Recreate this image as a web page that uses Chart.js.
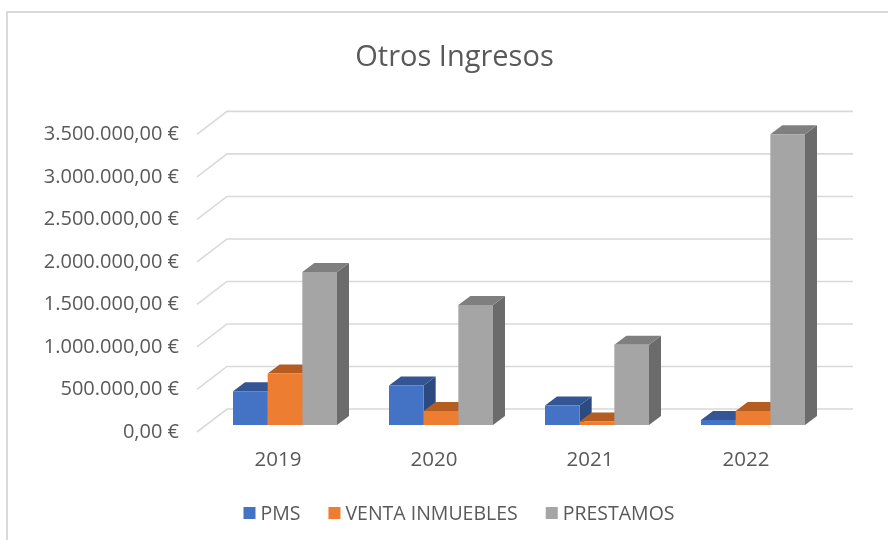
<!DOCTYPE html>
<html lang="es">
<head>
<meta charset="UTF-8">
<title>Otros Ingresos</title>
<script src="https://cdn.jsdelivr.net/npm/chart.js@4"></script>
<style>
    html, body { margin: 0; padding: 0; background: #fff; overflow: hidden; }
    #frame { position: absolute; left: 6px; top: 11px; width: 882px; height: 529px; border-left: 2px solid #d9d9d9; border-top: 2px solid #d9d9d9; box-sizing: border-box; }
    #chart { position: absolute; left: 0; top: 0; }
</style>
</head>
<body>
<div id="frame"></div>
<canvas id="chart" width="888" height="540"></canvas>
<script>
const years = ["2019", "2020", "2021", "2022"];
const pms = [396000, 466000, 230000, 60000];
const ventaInmuebles = [607000, 165000, 40000, 165000];
const prestamos = [1800000, 1410000, 945000, 3420000];
const valueTicks = ["0,00 €", "500.000,00 €", "1.000.000,00 €", "1.500.000,00 €", "2.000.000,00 €", "2.500.000,00 €", "3.000.000,00 €", "3.500.000,00 €"];

const textColor = "#595959";
const gridColor = "#d9d9d9";
const fontFamily = "'Open Sans', sans-serif";

// top and side colours of the 3D bars, same order as the datasets
const topColors = ["#335593", "#b55d20", "#7f7f7f"];
const sideColors = ["#2a4a80", "#9a4f1c", "#6b6b6b"];

// back wall of the fake 3D box, relative to the plane the bars stand on
const wall = { left: 20, right: 22, up: 16, frontLeft: -10, frontDown: 7 };
const barDepth = { x: 12, y: 9 };

const wallPlugin = {
    id: "wall",
    // title is centred on the whole chart block, not on the space right of nothing
    afterLayout(chart) {
        chart.titleBlock.left = 78;
    },
    beforeDatasetsDraw(chart) {
        const ctx = chart.ctx, area = chart.chartArea, y = chart.scales.y;
        ctx.save();
        ctx.strokeStyle = gridColor;
        ctx.lineWidth = 1.6;
        valueTicks.forEach((t, i) => {
            const py = y.getPixelForValue(i * 500000);
            ctx.beginPath();
            ctx.moveTo(area.left + wall.frontLeft, py + wall.frontDown);
            ctx.lineTo(area.left + wall.left, py - wall.up);
            ctx.lineTo(area.right + wall.right, py - wall.up);
            ctx.stroke();
        });
        // depth faces go first, the library paints the bar fronts over them
        chart.data.datasets.forEach((ds, d) => {
            chart.getDatasetMeta(d).data.forEach(bar => {
                const l = bar.x - bar.width / 2, r = bar.x + bar.width / 2;
                ctx.fillStyle = sideColors[d];
                ctx.beginPath();
                ctx.moveTo(r, bar.y);
                ctx.lineTo(r + barDepth.x, bar.y - barDepth.y);
                ctx.lineTo(r + barDepth.x, bar.base - barDepth.y);
                ctx.lineTo(r, bar.base);
                ctx.closePath();
                ctx.fill();
                ctx.fillStyle = topColors[d];
                ctx.beginPath();
                ctx.moveTo(l, bar.y);
                ctx.lineTo(l + barDepth.x, bar.y - barDepth.y);
                ctx.lineTo(r + barDepth.x, bar.y - barDepth.y);
                ctx.lineTo(r, bar.y);
                ctx.closePath();
                ctx.fill();
            });
        });
        ctx.restore();
    }
};

// own legend, the built-in one can't sit this close to the bottom edge
const legendPlugin = {
    id: "bottomLegend",
    afterDraw(chart) {
        const ctx = chart.ctx;
        const box = 12, boxGap = 5, itemGap = 28, centerX = 459, centerY = 514;
        ctx.save();
        ctx.font = "19.5px " + fontFamily;
        ctx.textBaseline = "middle";
        ctx.textAlign = "left";
        const sets = chart.data.datasets;
        let total = itemGap * (sets.length - 1);
        sets.forEach(ds => { total += box + boxGap + ctx.measureText(ds.label).width; });
        let x = centerX - total / 2;
        sets.forEach(ds => {
            ctx.fillStyle = ds.backgroundColor;
            ctx.fillRect(x, centerY - box / 2 - 1, box, box);
            x += box + boxGap;
            ctx.fillStyle = textColor;
            ctx.fillText(ds.label, x, centerY);
            x += ctx.measureText(ds.label).width + itemGap;
        });
        ctx.restore();
    }
};

new Chart(document.getElementById("chart"), {
    type: "bar",
    data: {
        labels: years,
        datasets: [
            { label: "PMS", data: pms, backgroundColor: "#4472c4" },
            { label: "VENTA INMUEBLES", data: ventaInmuebles, backgroundColor: "#ed7d31" },
            { label: "PRESTAMOS", data: prestamos, backgroundColor: "#a5a5a5" }
        ]
    },
    options: {
        responsive: false,
        animation: false,
        layout: { padding: { top: 40, right: 57, bottom: 60, left: 0 } },
        datasets: { bar: { categoryPercentage: 0.6667, barPercentage: 1 } },
        plugins: {
            legend: { display: false },
            tooltip: { enabled: false },
            title: {
                display: true,
                text: "Otros Ingresos",
                color: textColor,
                font: { family: fontFamily, size: 29, weight: "normal" },
                padding: { top: 0, bottom: 52.6 }
            }
        },
        scales: {
            x: {
                grid: { display: false, drawTicks: false },
                border: { display: false },
                ticks: {
                    color: textColor,
                    font: { family: fontFamily, size: 20.5 },
                    padding: 23,
                    labelOffset: -7
                },
                afterFit(scale) { scale.height = 55; }
            },
            y: {
                min: 0,
                max: 3500000,
                grid: { display: false, drawTicks: false },
                border: { display: false },
                ticks: {
                    stepSize: 500000,
                    color: textColor,
                    font: { family: fontFamily, size: 20 },
                    padding: 28,
                    labelOffset: 7,
                    callback: (v, i) => valueTicks[i]
                },
                afterFit(scale) { scale.width = 207; }
            }
        }
    },
    plugins: [wallPlugin, legendPlugin]
});
</script>
</body>
</html>
